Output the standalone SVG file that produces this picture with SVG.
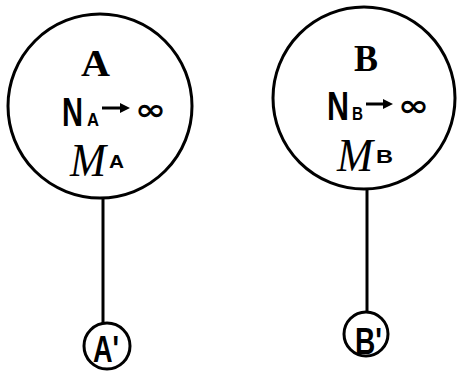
<svg xmlns="http://www.w3.org/2000/svg" width="457" height="372" viewBox="0 0 457 372">
<style>
.c{fill:none;stroke:#000;stroke-width:3}
.l{stroke:#000;stroke-width:3}
.big{font-family:"Liberation Serif",serif;font-weight:bold;font-size:38px}
.n{font-family:"Liberation Sans",sans-serif;font-weight:bold;font-size:40px}
.s{font-family:"Liberation Sans",sans-serif;font-weight:bold;font-size:18px}
.m{font-family:"Liberation Serif",serif;font-style:italic;font-size:46px}
.inf{font-family:"DejaVu Sans",sans-serif;font-weight:bold;font-size:30px}
.p{font-family:"Liberation Sans",sans-serif;font-weight:bold;font-size:37px}
.ar{stroke:#000;stroke-width:3}
</style>
<rect width="457" height="372" fill="#fff"/>
<g id="connectors">
<line class="l" x1="103" y1="197" x2="103" y2="323"/>
<line class="l" x1="367" y1="189" x2="367" y2="312"/>
</g>
<g id="A">
<circle class="c" cx="100" cy="106" r="92"/>
<text class="big" x="81" y="76" textLength="29" lengthAdjust="spacingAndGlyphs">A</text>
<text class="n" transform="translate(62,126) scale(0.727,1)">N</text>
<text class="s" x="87" y="126" textLength="12" lengthAdjust="spacingAndGlyphs">A</text>
<path class="ar" d="M102 108 H122"/><path d="M120 103 L130 108 L120 113 Z"/>
<text class="inf" x="135" y="120" textLength="31" lengthAdjust="spacingAndGlyphs">∞</text>
<text class="m" x="70" y="176" textLength="36" lengthAdjust="spacingAndGlyphs">M</text>
<text class="s" x="109" y="168" textLength="15" lengthAdjust="spacingAndGlyphs">A</text>
</g>
<g id="B">
<circle class="c" cx="364" cy="98" r="91"/>
<text class="big" x="354" y="71" textLength="24" lengthAdjust="spacingAndGlyphs">B</text>
<text class="n" transform="translate(327,120) scale(0.761,1)">N</text>
<text class="s" x="352" y="120" textLength="11" lengthAdjust="spacingAndGlyphs">B</text>
<path class="ar" d="M366 104 H385"/><path d="M383 99 L393 104 L383 109 Z"/>
<text class="inf" x="398" y="116" textLength="31" lengthAdjust="spacingAndGlyphs">∞</text>
<text class="m" x="337" y="171" textLength="36" lengthAdjust="spacingAndGlyphs">M</text>
<text class="s" x="376" y="163" textLength="17" lengthAdjust="spacingAndGlyphs">B</text>
</g>
<g id="A'">
<circle class="c" cx="107" cy="346" r="23"/>
<text class="p" x="93" y="362" textLength="26" lengthAdjust="spacingAndGlyphs">A'</text>
</g>
<g id="B'">
<circle class="c" cx="366" cy="334" r="22"/>
<text class="p" x="355" y="354" textLength="27" lengthAdjust="spacingAndGlyphs">B'</text>
</g>
</svg>
